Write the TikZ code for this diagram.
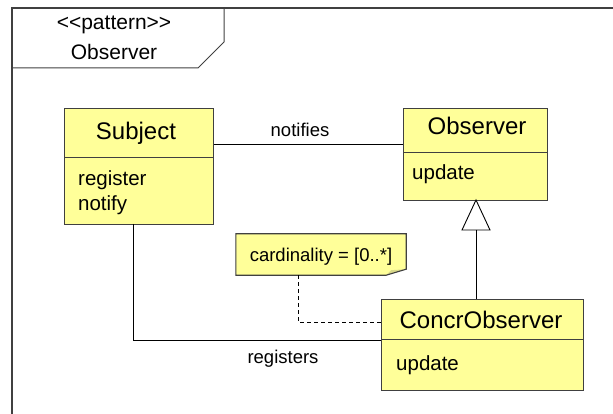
\documentclass[tikz,border=0pt]{standalone}
\usepackage{fontspec}
\setmainfont{Liberation Sans}
\usetikzlibrary{calc}
\definecolor{classfill}{HTML}{FFFF99}
\definecolor{foldfill}{HTML}{D8D88A}
\definecolor{edgegray}{HTML}{404040}

\begin{document}
\begin{tikzpicture}[x=1pt,y=-1pt,
  classbox/.style={draw=edgegray, fill=classfill, line width=1.1pt,
    inner sep=0pt, anchor=north west, rectangle},
  titletext/.style={font=\fontsize{24}{28}\selectfont, anchor=base, inner sep=0pt},
  membertext/.style={font=\fontsize{20.5}{24}\selectfont, anchor=base west, inner sep=0pt},
  tabtext/.style={font=\fontsize{21}{25}\selectfont, anchor=base, inner sep=0pt},
  labeltext/.style={font=\fontsize{18.5}{22}\selectfont, anchor=base, inner sep=0pt},
  wire/.style={line width=0.9pt, black},
  divider/.style={draw=edgegray, line width=0.9pt}]

\useasboundingbox (0,0) rectangle (613,414);

% package frame with its name tab
\coordinate (frameTL) at (12,8);
\draw[edgegray, line width=1.2pt] (12,414) -- (frameTL) -- (613,8);
\draw[edgegray, line width=1pt] (224,8) -- (224,42) -- (198,68) -- (12,68);
\node[tabtext] (stereo) at (114,30) {<{}<pattern>{}>};
\node[tabtext] (pname) at (114,60) {Observer};

% classes
\node[classbox, minimum width=149pt, minimum height=116pt] (subj) at (64,108) {};
\draw[divider] (subj.west |- 0,157) -- (subj.east |- 0,157);
\node[titletext] (subjT) at (136,140) {Subject};
\node[membertext] (subjA) at (78,186) {register};
\node[membertext] (subjB) at (78,211) {notify};

\node[classbox, minimum width=144pt, minimum height=92pt] (obs) at (403,108) {};
\draw[divider] (obs.west |- 0,152) -- (obs.east |- 0,152);
\node[titletext] (obsT) at (477,135) {Observer};
\node[membertext] (obsA) at (412,180) {update};

\node[classbox, minimum width=202pt, minimum height=91pt] (concr) at (381,299) {};
\draw[divider] (concr.west |- 0,339) -- (concr.east |- 0,339);
\node[titletext] (concrT) at (481,328) {ConcrObserver};
\node[membertext] (concrA) at (396,370) {update};

% note with folded corner
\node[minimum width=170pt, minimum height=41pt, inner sep=0pt] (note) at (321,254.5) {};
\fill[classfill] (note.north west) -- (note.north east) -- ($(note.south east)+(0,-6)$)
  -- ($(note.south east)+(-20,0)$) -- (note.south west) -- cycle;
\fill[foldfill] ($(note.south east)+(-20,0)$) -- ($(note.south east)+(-15,-5)$)
  -- ($(note.south east)+(0,-6)$) -- cycle;
\draw[edgegray, line width=1.1pt] (note.north west) -- (note.north east) -- ($(note.south east)+(0,-6)$)
  -- ($(note.south east)+(-20,0)$) -- (note.south west) -- cycle;
\node[labeltext] (noteT) at (321,261) {cardinality = [0..*]};

% associations
\draw[wire] (subj.east |- 0,144) -- (obs.west |- 0,144);
\node[labeltext] (notifies) at (300,137) {notifies};

\draw[wire] (133,224) -- (133,340) -- (concr.west |- 0,340);
\node[labeltext] (registers) at (283,363) {registers};

% generalization
\coordinate (apex) at (476,200);
\coordinate (tribase) at (476,230);
\draw[wire, fill=white] (apex) -- (462,230) -- (490,230) -- cycle;
\draw[wire] (tribase) -- (tribase |- concr.north);

% note anchor
\draw[wire, dash pattern=on 4pt off 3pt] (note.south -| 298,0) -- (298,322) -- (concr.west |- 0,322);

\end{tikzpicture}
\end{document}
